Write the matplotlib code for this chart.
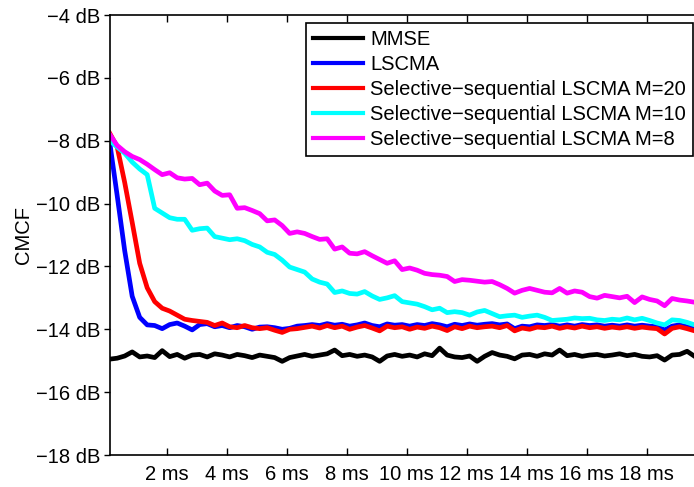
import matplotlib
matplotlib.use('Agg')
import matplotlib.pyplot as plt
import numpy as np

plt.rcParams['font.family'] = ['Liberation Sans', 'DejaVu Sans']

# sample times [ms]
time = np.arange(79) * 0.25 + 0.1

mmse = [-14.95, -14.92, -14.85, -14.72, -14.88, -14.85, -14.90, -14.68, -14.87, -14.80,
        -14.92, -14.82, -14.80, -14.88, -14.78, -14.82, -14.88, -14.80, -14.84, -14.90,
        -14.82, -14.86, -14.90, -15.02, -14.90, -14.85, -14.80, -14.86, -14.82, -14.78,
        -14.66, -14.84, -14.80, -14.86, -14.82, -14.88, -15.02, -14.85, -14.80, -14.86,
        -14.82, -14.88, -14.78, -14.84, -14.60, -14.82, -14.88, -14.90, -14.85, -15.02,
        -14.86, -14.74, -14.82, -14.86, -14.94, -14.82, -14.80, -14.86, -14.78, -14.82,
        -14.66, -14.84, -14.80, -14.86, -14.82, -14.80, -14.85, -14.82, -14.78, -14.84,
        -14.80, -14.86, -14.88, -14.84, -14.98, -14.82, -14.80, -14.70, -14.86]

lscma = [-8.05, -9.75, -11.50, -12.95, -13.62, -13.86, -13.88, -13.98, -13.85, -13.80,
         -13.90, -14.02, -13.85, -13.82, -13.92, -13.88, -13.95, -13.88, -13.92, -14.00,
         -13.93, -13.92, -13.95, -14.00, -13.97, -13.90, -13.88, -13.85, -13.88, -13.82,
         -13.87, -13.84, -13.90, -13.86, -13.80, -13.88, -13.92, -13.83, -13.87, -13.85,
         -13.90, -13.85, -13.88, -13.82, -13.86, -13.92, -13.84, -13.88, -13.83, -13.87,
         -13.84, -13.82, -13.86, -13.83, -13.98, -13.90, -13.92, -13.86, -13.88, -13.85,
         -13.90, -13.86, -13.90, -13.85, -13.88, -13.86, -13.90, -13.87, -13.90, -13.86,
         -13.90, -13.87, -13.90, -13.92, -14.02, -13.90, -13.86, -13.92, -13.97]

ss_m20 = [-7.76, -8.20, -9.33, -10.60, -11.90, -12.68, -13.12, -13.33, -13.42, -13.55,
          -13.68, -13.72, -13.75, -13.78, -13.88, -13.80, -13.92, -13.95, -13.88, -13.95,
          -13.98, -13.95, -14.03, -14.10, -14.00, -13.98, -13.94, -13.90, -13.96, -13.88,
          -13.95, -13.90, -14.00, -13.93, -13.88, -13.96, -14.05, -13.90, -13.95, -13.92,
          -14.00, -13.93, -13.97, -13.90, -13.95, -14.04, -13.92, -13.98, -13.90, -13.95,
          -13.92, -13.90, -13.95, -13.88, -14.05, -13.96, -14.00, -13.93, -13.95, -13.90,
          -13.97, -13.92, -13.96, -13.90, -13.95, -13.92, -13.97, -13.93, -13.96, -13.92,
          -13.97, -13.93, -13.96, -13.98, -14.15, -13.97, -13.92, -13.98, -14.05]

ss_m10 = [-8.00, -8.20, -8.40, -8.68, -8.90, -9.08, -10.15, -10.30, -10.45, -10.50,
          -10.50, -10.85, -10.80, -10.78, -11.05, -11.10, -11.15, -11.12, -11.18, -11.30,
          -11.38, -11.55, -11.62, -11.80, -12.02, -12.10, -12.18, -12.40, -12.50, -12.56,
          -12.83, -12.78, -12.86, -12.88, -12.80, -12.94, -13.05, -13.00, -12.93, -13.12,
          -13.16, -13.20, -13.28, -13.38, -13.33, -13.47, -13.44, -13.47, -13.55, -13.45,
          -13.40, -13.50, -13.60, -13.57, -13.55, -13.62, -13.58, -13.55, -13.62, -13.72,
          -13.70, -13.68, -13.64, -13.66, -13.65, -13.70, -13.72, -13.68, -13.70, -13.64,
          -13.70, -13.65, -13.72, -13.80, -13.86, -13.70, -13.72, -13.78, -13.86]

ss_m8 = [-7.80, -8.15, -8.35, -8.50, -8.60, -8.75, -8.92, -9.08, -9.02, -9.18,
         -9.22, -9.20, -9.40, -9.35, -9.60, -9.74, -9.72, -10.15, -10.13, -10.22,
         -10.32, -10.55, -10.52, -10.70, -10.95, -10.90, -10.95, -11.05, -11.14, -11.12,
         -11.45, -11.38, -11.58, -11.60, -11.53, -11.66, -11.78, -11.90, -11.82, -12.10,
         -12.05, -12.12, -12.22, -12.26, -12.28, -12.32, -12.48, -12.42, -12.44, -12.47,
         -12.50, -12.48, -12.58, -12.70, -12.85, -12.76, -12.70, -12.76, -12.82, -12.84,
         -12.70, -12.85, -12.78, -12.82, -12.96, -13.01, -12.92, -12.96, -13.00, -12.95,
         -13.15, -12.97, -13.05, -13.10, -13.25, -13.02, -13.07, -13.10, -13.14]

labels = ['MMSE', 'LSCMA',
          'Selective\u2212sequential LSCMA M=20',
          'Selective\u2212sequential LSCMA M=10',
          'Selective\u2212sequential LSCMA M=8']
colors = ['black', 'blue', 'red', 'cyan', 'magenta']

xticks = [2, 4, 6, 8, 10, 12, 14, 16, 18]
yticks = [-18, -16, -14, -12, -10, -8, -6, -4]

fig = plt.figure(figsize=(6.94, 4.87), dpi=100)
ax = fig.add_axes([110/694, 32/487, 584/694, 440/487])

for y, lab, c in zip([mmse, lscma, ss_m20, ss_m10, ss_m8], labels, colors):
    ax.plot(time, y, color=c, lw=3.4, label=lab)

ax.set_xlim(0.11, 19.58)
ax.set_ylim(-18, -4)
ax.set_xticks(xticks)
ax.set_xticklabels(['%d ms' % v for v in xticks])
ax.set_yticks(yticks)
ax.set_yticklabels(['\u2212%d dB' % -v for v in yticks])
ax.set_ylabel('CMCF', fontsize=14.5, labelpad=2)

ax.spines['right'].set_visible(False)
for s in ['left', 'bottom', 'top']:
    ax.spines[s].set_linewidth(1.2)
ax.tick_params(axis='x', direction='in', top=True, bottom=True, length=5, width=1, labelsize=14.5, pad=7)
ax.tick_params(axis='y', direction='out', length=4, width=1, labelsize=14.5, pad=3)

leg = ax.legend(loc='upper right', bbox_to_anchor=(693/694, 1 - 23/487), bbox_transform=fig.transFigure,
                borderaxespad=0, fontsize=14.5, frameon=True, fancybox=False, framealpha=1,
                edgecolor='black', handlelength=2.5, handletextpad=0.35, labelspacing=0.3,
                borderpad=0.35)
leg.get_frame().set_linewidth(1.2)
for h in leg.get_lines():
    h.set_linewidth(3)

fig.savefig('out.png', dpi=100)
